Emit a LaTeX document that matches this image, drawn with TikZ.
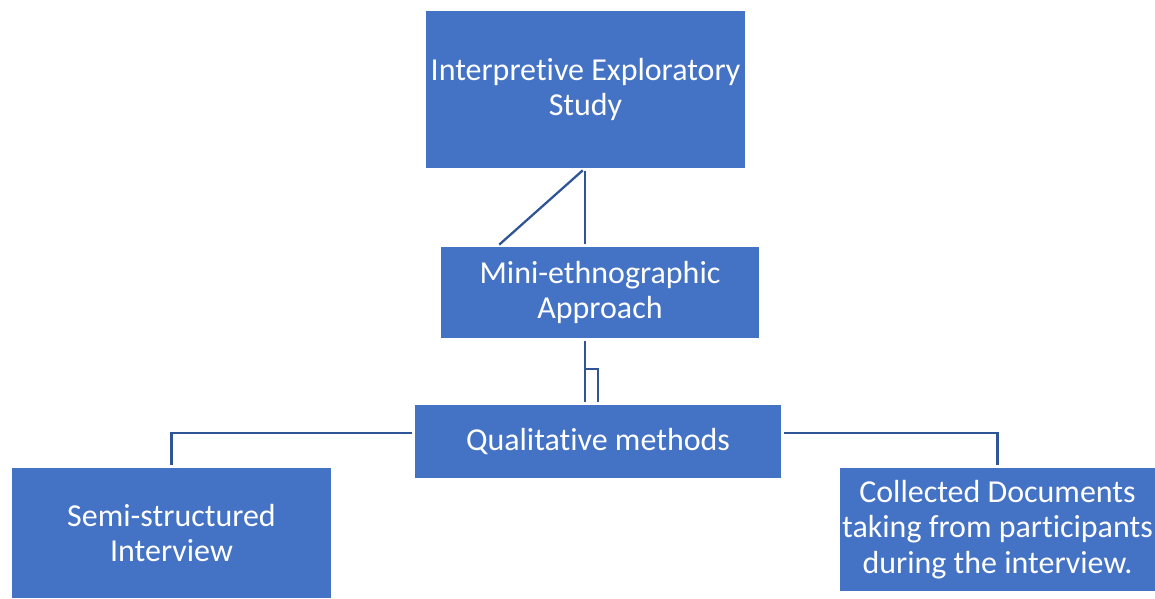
\documentclass[tikz,border=0pt]{standalone}
\usepackage{fontspec}
\setmainfont{Carlito}[RawFeature={-liga;-calt;-clig}]
\usepackage{xcolor}
\definecolor{boxblue}{HTML}{4472C4}
\definecolor{lineblue}{HTML}{2F5597}
\tikzset{box/.style={fill=boxblue,draw=none,text=white,align=center,inner sep=0pt,
  font=\fontsize{18.2}{20}\selectfont},
 link/.style={draw=lineblue,line width=1.3pt,shorten <=0.06cm,shorten >=0.06cm},
 }

\begin{document}
\begin{tikzpicture}[x=0.02cm,y=-0.02cm]
        \useasboundingbox (0,0) rectangle (1155,598);
        \node[box,minimum width=6.38cm,minimum height=3.14cm] (top) at (585.5,89.5) {Interpretive Exploratory\\Study};
        \node[box,minimum width=6.36cm,minimum height=1.82cm] (mini) at (600,292.5) {Mini-ethnographic\\Approach};
        \node[box,minimum width=7.32cm,minimum height=1.46cm] (qual) at (598,441.5) {Qualitative methods};
        \node[box,minimum width=6.38cm,minimum height=2.60cm] (semi) at (171.5,533) {Semi-structured\\Interview};
        \node[box,minimum width=6.30cm,minimum height=2.46cm] (docs) at (997.5,529.5) {Collected Documents\\taking from participants\\during the interview.};
        \coordinate (d) at (497,0);
        \coordinate (m) at (585,369);
        \coordinate (q) at (0,433);
        \draw[link] (top.south -| m) -- (m |- mini.north);
        \draw[link] (top.south -| m) -- (d |- mini.north);
        \draw[link] (m |- mini.south) -- (m |- qual.north);
        \draw[link,shorten <=0pt] (m) -| (qual.north);
        \draw[link] (qual.west |- q) -| (semi.north);
        \draw[link] (qual.east |- q) -| (docs.north);
    \end{tikzpicture}
\end{document}
